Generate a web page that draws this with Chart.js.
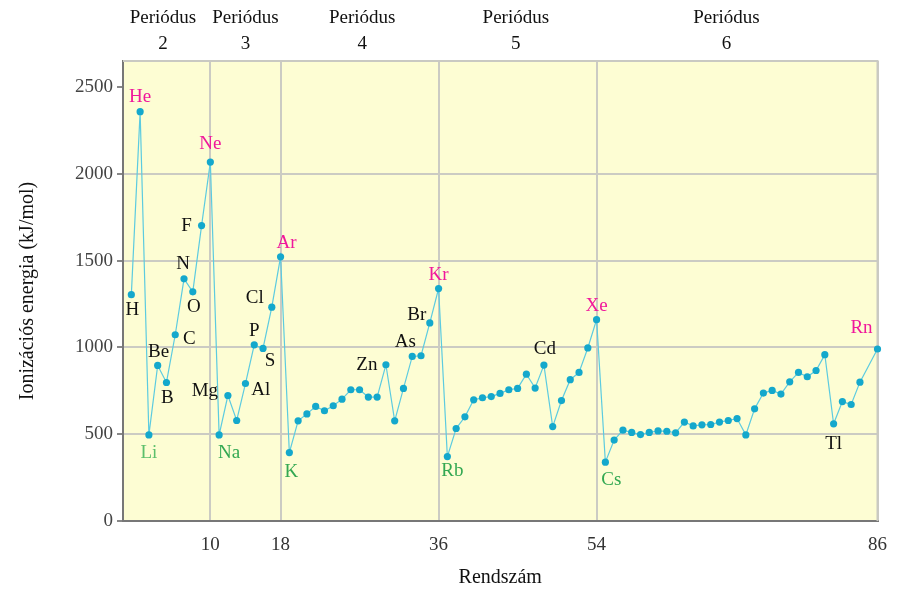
<!DOCTYPE html>
<html>
<head>
<meta charset="utf-8">
<script src="https://cdn.jsdelivr.net/npm/chart.js@4"></script>
<style>
  html, body { margin: 0; padding: 0; background: #fff; }
  #wrap { width: 900px; height: 591px; }
</style>
</head>
<body>
<div id="wrap"><canvas id="chart" width="900" height="591"></canvas></div>
<script>
// ionizációs energia (kJ/mol), rendszám 1..86 sorrendben (At hiányzik)
const energies = [
  1304, 2358,
  496, 896, 798, 1073, 1395, 1320, 1702, 2068,
  496, 723, 579, 792, 1015, 994, 1232, 1522,
  394, 577, 617, 660, 635, 664, 702, 756, 756, 714, 714, 900, 577, 764, 948, 952, 1141, 1339,
  371, 533, 600, 698, 710, 717, 735, 756, 764, 846, 766, 898, 544, 694, 814, 856, 997, 1160,
  339, 466, 523, 510, 498, 510, 519, 517, 508, 570, 548, 554, 556, 570, 579, 590, 496,
  646, 737, 752, 731, 802, 856, 831, 867, 958, 560, 688, 671, 800, null, 991
];

// feliratozott elemek
const labelSymbols = ['H', 'He', 'Li', 'Be', 'B', 'C', 'N', 'O', 'F', 'Ne', 'Na', 'Mg', 'Al', 'P', 'S', 'Cl', 'Ar',
  'K', 'Zn', 'As', 'Br', 'Kr', 'Rb', 'Cd', 'Xe', 'Cs', 'Tl', 'Rn'];
const labelZ = [1, 2, 3, 4, 5, 6, 7, 8, 9, 10, 11, 12, 13, 15, 16, 17, 18,
  19, 30, 33, 35, 36, 37, 48, 54, 55, 81, 86];

// tengely feliratok
const xTicks = [10, 18, 36, 54, 86];
const yTicks = [0, 500, 1000, 1500, 2000, 2500];
const periodNames = ['2', '3', '4', '5', '6'];
const periodCenters = [4.6, 14, 27.3, 44.8, 68.8];

const NOBLE = '#f0189c';
const ALKALI = '#33a852';
const OTHER = '#111111';

// felirat eltolás (px) és szín, a labelSymbols sorrendjében
const labelStyles = [
  { dx: 1, dy: 15, color: OTHER },   // H
  { dx: 0, dy: -15, color: NOBLE },  // He
  { dx: 0, dy: 18, color: '#5cbf6c' }, // Li
  { dx: 1, dy: -13, color: OTHER },  // Be
  { dx: 1, dy: 16, color: OTHER },   // B
  { dx: 14, dy: 4, color: OTHER },   // C
  { dx: -1, dy: -15, color: OTHER }, // N
  { dx: 1, dy: 15, color: OTHER },   // O
  { dx: -15, dy: 0, color: OTHER },  // F
  { dx: 0, dy: -18, color: NOBLE },  // Ne
  { dx: 10, dy: 18, color: ALKALI }, // Na
  { dx: -23, dy: -4, color: OTHER }, // Mg
  { dx: 24, dy: -30, color: OTHER }, // Al
  { dx: 0, dy: -14, color: OTHER },  // P
  { dx: 7, dy: 13, color: OTHER },   // S
  { dx: -17, dy: -9, color: OTHER }, // Cl
  { dx: 6, dy: -14, color: NOBLE },  // Ar
  { dx: 2, dy: 19, color: ALKALI },  // K
  { dx: -19, dy: 0, color: OTHER },  // Zn
  { dx: -7, dy: -14, color: OTHER }, // As
  { dx: -13, dy: -8, color: OTHER }, // Br
  { dx: 0, dy: -14, color: NOBLE },  // Kr
  { dx: 5, dy: 14, color: ALKALI },  // Rb
  { dx: 1, dy: -16, color: OTHER },  // Cd
  { dx: 0, dy: -14, color: NOBLE },  // Xe
  { dx: 6, dy: 18, color: ALKALI },  // Cs
  { dx: 0, dy: 20, color: OTHER },   // Tl
  { dx: -16, dy: -21, color: NOBLE } // Rn
];

const SERIF = '"Liberation Serif", "DejaVu Serif", serif';

// sárga háttér + világos keret a rajzterület körül
const plotBackground = {
  id: 'plotBackground',
  beforeDraw(chart) {
    const { ctx, chartArea: a } = chart;
    ctx.save();
    ctx.fillStyle = '#fdfdd3';
    ctx.fillRect(a.left, a.top, a.right - a.left, a.bottom - a.top);
    ctx.restore();
  },
  beforeDatasetsDraw(chart) {
    const { ctx, chartArea: a } = chart;
    ctx.save();
    ctx.strokeStyle = '#c9c9c2';
    ctx.lineWidth = 2;
    ctx.beginPath();
    ctx.moveTo(a.left, a.top);
    ctx.lineTo(a.right, a.top);
    ctx.lineTo(a.right, a.bottom);
    ctx.stroke();
    ctx.restore();
  }
};

// elemjelek a pontok mellett
const elementLabels = {
  id: 'elementLabels',
  afterDatasetsDraw(chart) {
    const { ctx } = chart;
    const meta = chart.getDatasetMeta(0);
    ctx.save();
    ctx.font = '19px ' + SERIF;
    ctx.textAlign = 'center';
    ctx.textBaseline = 'middle';
    labelSymbols.forEach((sym, i) => {
      const pt = meta.data[labelZ[i] - 1];
      const st = labelStyles[i];
      ctx.fillStyle = st.color;
      ctx.fillText(sym, pt.x + st.dx, pt.y + st.dy);
    });
    ctx.restore();
  }
};

// periódus feliratok a rajzterület fölött
const periodLabels = {
  id: 'periodLabels',
  afterDraw(chart) {
    const { ctx } = chart;
    const xs = chart.scales.x;
    ctx.save();
    ctx.font = '19px ' + SERIF;
    ctx.fillStyle = '#111';
    ctx.textAlign = 'center';
    ctx.textBaseline = 'middle';
    periodNames.forEach((p, i) => {
      const x = xs.getPixelForValue(periodCenters[i]);
      ctx.fillText('Periódus', x, 18);
      ctx.fillText(p, x, 44);
    });
    ctx.restore();
  }
};

const points = energies.map((v, i) => ({ x: i + 1, y: v }));

new Chart(document.getElementById('chart'), {
  type: 'line',
  data: {
    datasets: [{
      label: 'Ionizációs energia',
      data: points,
      borderColor: '#5ccbe0',
      borderWidth: 1.2,
      backgroundColor: '#14a8cc',
      pointBackgroundColor: '#14a8cc',
      pointBorderColor: '#14a8cc',
      pointRadius: 3.6,
      pointBorderWidth: 0,
      spanGaps: true,
      clip: false,
      tension: 0
    }]
  },
  options: {
    responsive: false,
    animation: false,
    layout: { padding: { top: 61, right: 22, left: 0, bottom: 0 } },
    plugins: {
      legend: { display: false },
      tooltip: { enabled: false }
    },
    scales: {
      x: {
        type: 'linear',
        min: 0.05,
        max: 86,
        afterFit(scale) { scale.height = 70; },
        afterBuildTicks(scale) { scale.ticks = xTicks.map(v => ({ value: v })); },
        grid: {
          color: '#cbcbc3',
          lineWidth: 2,
          drawTicks: false
        },
        border: { color: '#777', width: 2 },
        ticks: {
          padding: 13,
          color: '#333',
          font: { family: SERIF, size: 19 },
          maxRotation: 0,
          callback: v => String(v)
        },
        title: {
          display: true,
          text: 'Rendszám',
          color: '#111',
          font: { family: SERIF, size: 20 },
          padding: { top: 0, bottom: 1 }
        }
      },
      y: {
        min: 0,
        max: 2650,
        afterFit(scale) { scale.width = 123; },
        afterBuildTicks(scale) { scale.ticks = yTicks.map(v => ({ value: v })); },
        grid: {
          color: ctx => (ctx.tick && (ctx.tick.value === 2500 || ctx.tick.value === 0)) ? 'rgba(0,0,0,0)' : '#cbcbc3',
          lineWidth: 2,
          tickLength: 6,
          tickColor: '#888'
        },
        border: { color: '#777', width: 2 },
        ticks: {
          padding: 4,
          color: '#444',
          font: { family: SERIF, size: 19 },
          callback: v => String(v)
        },
        title: {
          display: true,
          text: 'Ionizációs energia (kJ/mol)',
          color: '#111',
          font: { family: SERIF, size: 20 },
          padding: { top: 16, bottom: 0 }
        }
      }
    }
  },
  plugins: [plotBackground, elementLabels, periodLabels]
});
</script>
</body>
</html>
